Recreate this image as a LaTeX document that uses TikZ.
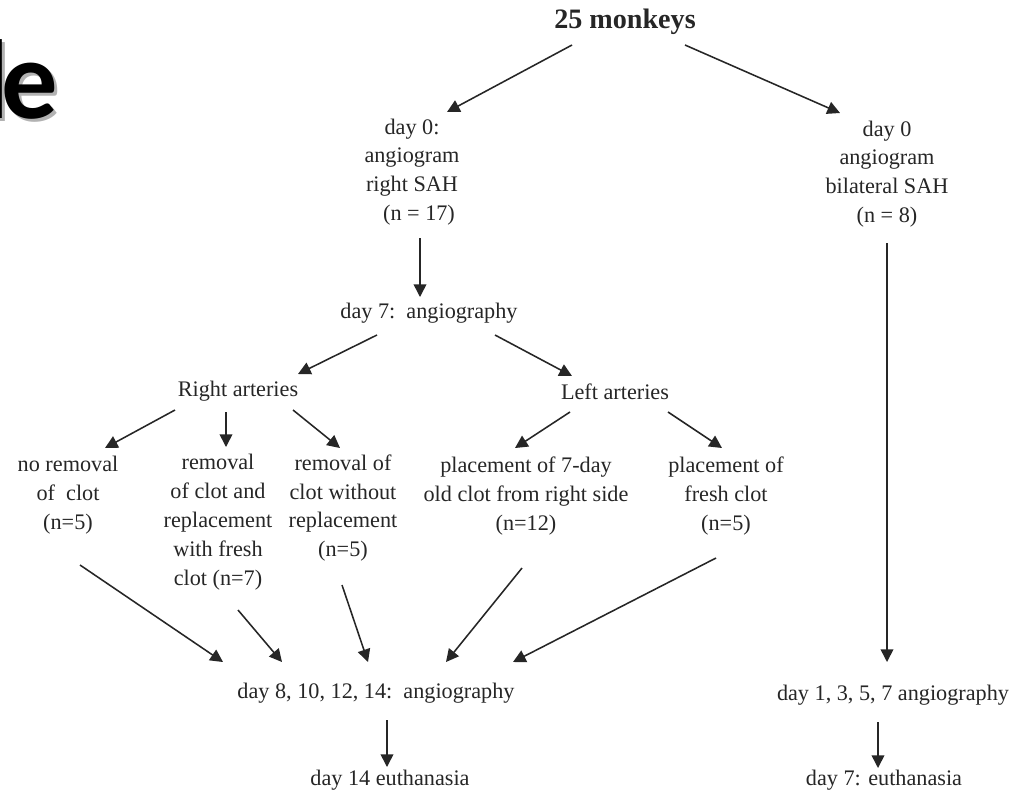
\documentclass[tikz,border=0pt]{standalone}
\usepackage{fontspec}
\setmainfont{Liberation Serif}
\newfontfamily\slidefont{Carlito}
\usetikzlibrary{arrows.meta}
\begin{document}
\begin{tikzpicture}[x=0.025cm,y=-0.025cm,
    every node/.style={align=center,inner sep=0pt,text=black!85,font=\fontsize{15.8}{20.5}\selectfont},
    arr/.style={-{Triangle[length=9pt,width=9pt]},line width=1.1pt,black!85}]
  \useasboundingbox[fill=white] (0,0) rectangle (1024,791);
  % cut-off slide title
  \node[anchor=base east,text=black!30,font=\fontsize{80}{80}\slidefont\bfseries] (ttlshadow) at (61,121) {l\kern-6pt e};
  \node[anchor=base east,text=black,font=\fontsize{80}{80}\slidefont\bfseries] (ttl) at (58,118) {l\kern-6pt e};
  % top
  \node[font=\fontsize{20}{24}\selectfont\bfseries] (mk) at (625,22) {25 monkeys};
  \node (dzl) at (412,172) {day 0:\\angiogram\\right SAH\\\hspace{10pt}(n = 17)};
  \node (dzr) at (887,174) {day 0\\angiogram\\bilateral SAH\\(n = 8)};
  \node (dse) at (429,313) {day 7:\ \ angiography};
  \node (ra) at (238,391) {Right arteries};
  \node (la) at (615,392) {Left arteries};
  % groups
  \node (nr) at (68,495) {no removal\\of\ \ clot\\(n=5)};
  \node (rw) at (218,522) {removal\\of clot and\\replacement\\with fresh\\clot (n=7)};
  \node (rn) at (343,508) {removal of\\clot without\\replacement\\(n=5)};
  \node (po) at (526,496) {placement of 7-day\\old clot from right side\\(n=12)};
  \node (pf) at (726,496) {placement of\\fresh clot\\(n=5)};
  % bottom
  \node (de) at (376,693) {day 8, 10, 12, 14:\ \ angiography};
  \node (ef) at (390,780) {day 14 euthanasia};
  \node (do) at (893,695) {day 1, 3, 5, 7 angiography};
  \node (es) at (884,780) {day 7: euthanasia};
  \path[arr]
    ([shift={(-53,23)}]mk.center) edge ([shift={(35,-60)}]dzl.center)
    ([shift={(60,23)}]mk.center) edge ([shift={(-47,-61)}]dzr.center)
    ([shift={(8,66)}]dzl.center) edge ([shift={(-9,-16)}]dse.center)
    ([shift={(0,69)}]dzr.center) edge ([shift={(-6,-33)}]do.center)
    ([shift={(-52,22)}]dse.center) edge ([shift={(60,-17)}]ra.center)
    ([shift={(66,22)}]dse.center) edge ([shift={(-43,-16)}]la.center)
    ([shift={(-63,19)}]ra.center) edge ([shift={(37,-47)}]nr.center)
    ([shift={(-12,21)}]ra.center) edge ([shift={(8,-75)}]rw.center)
    ([shift={(55,19)}]ra.center) edge ([shift={(-3,-60)}]rn.center)
    ([shift={(-45,20)}]la.center) edge ([shift={(-11,-48)}]po.center)
    ([shift={(53,20)}]la.center) edge ([shift={(-4,-48)}]pf.center);
  \path[arr]
    ([shift={(12,70)}]nr.center) edge ([shift={(-153,-31)}]de.center)
    ([shift={(20,88)}]rw.center) edge ([shift={(-94,-31)}]de.center)
    ([shift={(-1,77)}]rn.center) edge ([shift={(-8,-31)}]de.center)
    ([shift={(-4,72)}]po.center) edge ([shift={(70,-31)}]de.center)
    ([shift={(-10,62)}]pf.center) edge ([shift={(137,-31)}]de.center)
    ([shift={(11,27)}]de.center) edge ([shift={(-3,-13)}]ef.center)
    ([shift={(-15,27)}]do.center) edge ([shift={(-6,-12)}]es.center);
\end{tikzpicture}
\end{document}
